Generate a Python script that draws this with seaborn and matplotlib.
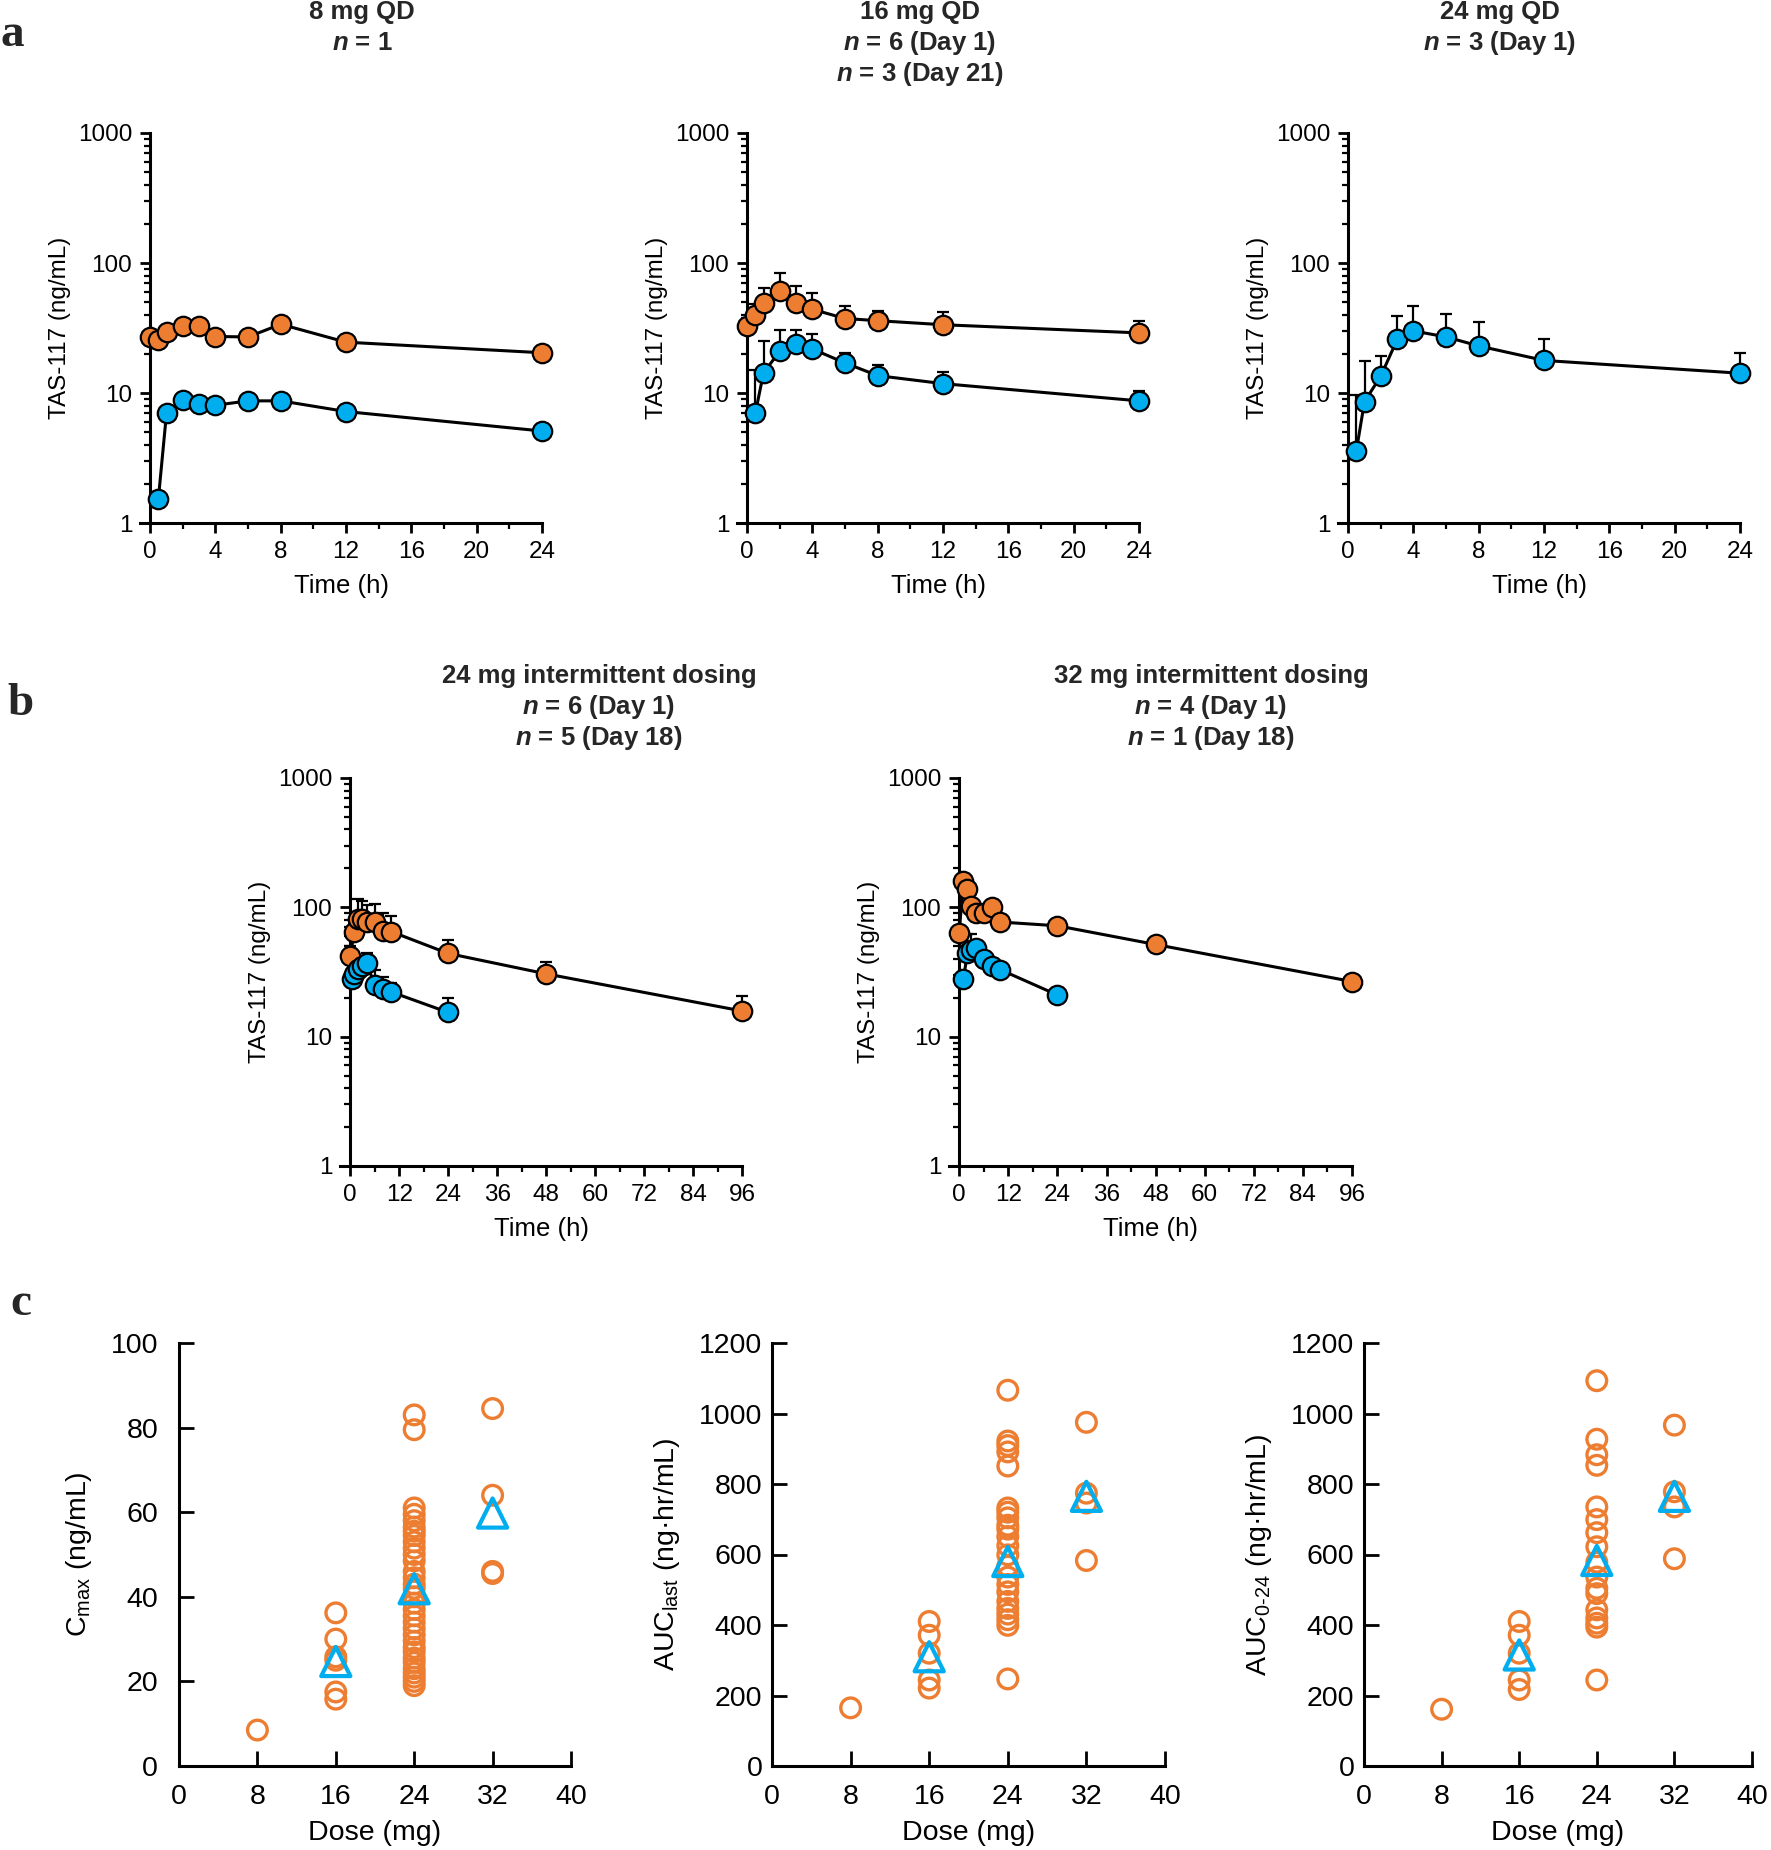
"""
TAS-117 PK figure: concentration-time profiles (a, b) and dose vs exposure (c).
"""

import numpy as np
import matplotlib

matplotlib.use("Agg")
import matplotlib.pyplot as plt
from matplotlib.ticker import LogLocator, NullFormatter
import seaborn as sns

ORANGE = "#ED7D31"
BLUE = "#00AEEF"
W, H = 1771, 1850

# ---- panel a: QD dosing (blue = Day 1, orange = Day 21) ----
qd8_t_d1 = [0.5, 1, 2, 3, 4, 6, 8, 12, 24]
qd8_c_d1 = [1.53, 7.0, 8.9, 8.2, 8.05, 8.7, 8.7, 7.2, 5.1]
qd8_t_ss = [0, 0.5, 1, 2, 3, 4, 6, 8, 12, 24]
qd8_c_ss = [27, 25.5, 29.5, 32.7, 33, 27.2, 27, 33.8, 24.6, 20.4]

qd16_t_d1 = [0.5, 1, 2, 3, 4, 6, 8, 12, 24]
qd16_c_d1 = [7.0, 14.3, 21, 24, 21.8, 17, 13.6, 11.8, 8.7]
qd16_top_d1 = [15, 25, 30.5, 30.5, 28.6, 20.4, 16.3, 14.5, 10.3]
qd16_t_ss = [0, 0.5, 1, 2, 3, 4, 6, 8, 12, 24]
qd16_c_ss = [33, 40, 49, 61, 49, 44, 37.4, 36, 33.5, 29]
qd16_top_ss = [38, 48, 64, 84, 66, 59, 47, 43, 42, 36]

qd24_t_d1 = [0.5, 1, 2, 3, 4, 6, 8, 12, 24]
qd24_c_d1 = [3.6, 8.6, 13.5, 25.8, 30, 27, 23, 17.8, 14.2]
qd24_top_d1 = [9.7, 17.5, 19.4, 39, 47, 40.7, 35, 25.8, 20.4]

# ---- panel b: intermittent dosing (blue = Day 1, orange = Day 18) ----
id24_t_d1 = [0.5, 1, 2, 3, 4, 6, 8, 10, 24]
id24_c_d1 = [28, 30.7, 33.6, 35, 37, 25.3, 23.5, 22.2, 15.4]
id24_top_d1 = [32, 35, 38, 40, 44.6, 32.6, 29, 26, 20]
id24_t_ss = [0, 1, 2, 3, 4, 6, 8, 10, 24, 48, 96]
id24_c_ss = [42, 64, 81, 81, 77, 77, 66, 65, 44, 30.6, 15.8]
id24_top_ss = [50, 75, 117, 112, 104, 106, 90, 86, 56, 38, 20.5]

id32_t_d1 = [1, 2, 3, 4, 6, 8, 10, 24]
id32_c_d1 = [27.7, 44, 46.5, 48.5, 40, 35, 33, 21]
id32_top_d1 = [np.nan, 62, 62, 55, 44, 40, 36, np.nan]
id32_t_ss = [0, 1, 2, 3, 4, 6, 8, 10, 24, 48, 96]
id32_c_ss = [63.7, 160, 138, 103, 90, 91, 100, 77, 72, 51.6, 26.7]

# ---- panel c: individual exposure by dose, triangles = means ----
cmax_8 = [8.5]
cmax_16 = [36.2, 30, 25.8, 25, 17.5, 15.8]
cmax_24 = [83, 79.5, 61, 59.5, 58, 56.5, 55.5, 54.5, 53, 51.5, 50, 48.5, 46, 44.5,
           43, 42, 40, 38.5, 37, 35.5, 34, 32.5, 31, 29.5, 28, 27, 25.5, 24.5, 23,
           22, 21, 20, 19]
cmax_32 = [84.5, 64, 46, 45.5]
cmax_mean = [24.7, 41.9, 59.8]

auclast_8 = [165]
auclast_16 = [410, 371, 320, 244, 221]
auclast_24 = [1066, 922, 909, 891, 851, 732, 720, 704, 683, 672, 651, 625, 599, 567,
              536, 515, 494, 467, 447, 431, 415, 399, 247]
auclast_32 = [975, 774, 746, 583]
auclast_mean = [310, 580, 765]

auc024_8 = [161]
auc024_16 = [410, 371, 320, 244, 217]
auc024_24 = [1093, 927, 883, 853, 735, 699, 662, 622, 578, 536, 504, 489, 443, 420,
             405, 394, 244]
auc024_32 = [967, 778, 735, 588]
auc024_mean = [315, 583, 765]

mean_doses = [16, 24, 32]

sns.set_style("ticks")
plt.rcParams.update({
    "font.family": ["Liberation Sans", "DejaVu Sans"],
    "font.size": 17.5,
    "mathtext.fontset": "custom",
    "mathtext.rm": "Liberation Sans",
    "mathtext.it": "Liberation Sans:italic:bold",
    "mathtext.bf": "Liberation Sans:bold",
    "axes.linewidth": 2.2,
    "axes.edgecolor": "black",
    "xtick.color": "black",
    "ytick.color": "black",
    "axes.labelcolor": "black",
})

fig = plt.figure(figsize=(W / 100, H / 100), dpi=100)


def add_axes(left, right, top, bottom):
    return fig.add_axes([left / W, 1 - bottom / H, (right - left) / W, (bottom - top) / H])


def pk_panel(ax, series, xmax, xmajor, xminor, xpad):
    ax.set_yscale("log")
    for t, c, top, color in series:
        if top is not None:
            upper = np.array(top, dtype=float) - np.array(c, dtype=float)
            ax.errorbar(t, c, yerr=[np.zeros(len(c)), upper], fmt="none", ecolor="black",
                        elinewidth=1.6, capsize=4, capthick=1.6, zorder=2, clip_on=False)
        sns.lineplot(x=t, y=c, color="black", linewidth=2.2, marker="o", markersize=14,
                     markerfacecolor=color, markeredgecolor="black", markeredgewidth=1.6,
                     errorbar=None, ax=ax, zorder=3, clip_on=False)
    ax.set_ylim(1, 1000)
    ax.set_xlim(-xpad, xmax)
    ax.set_yticks([1, 10, 100, 1000])
    ax.set_yticklabels(["1", "10", "100", "1000"])
    ax.yaxis.set_minor_locator(LogLocator(base=10, subs=np.arange(2, 10)))
    ax.yaxis.set_minor_formatter(NullFormatter())
    ax.set_xticks(np.arange(0, xmax + 1, xmajor))
    ax.set_xticks(np.arange(0, xmax + 1, xminor), minor=True)
    sns.despine(ax=ax)
    ax.spines["left"].set_position(("data", 0))
    ax.tick_params(which="major", direction="out", length=7, width=2, pad=6)
    ax.tick_params(which="minor", direction="out", length=4, width=1.6)
    ax.set_xlabel("Time (h)", labelpad=8, fontsize=18.5)
    ax.set_ylabel("TAS-117 (ng/mL)", labelpad=5, fontsize=17.5)


def dose_panel(ax, groups, means, ymax, ystep, ylabel, ypad):
    doses = []
    vals = []
    for d, g in zip([8, 16, 24, 32], groups):
        doses += [d] * len(g)
        vals += g
    sns.scatterplot(x=doses, y=vals, marker="o", s=200, facecolor="none",
                    edgecolor=ORANGE, linewidth=2.4, ax=ax, zorder=2)
    sns.scatterplot(x=mean_doses, y=means, marker="^", s=440, facecolor="none",
                    edgecolor=BLUE, linewidth=3, ax=ax, zorder=3)
    ax.set_xlim(0, 40)
    ax.set_ylim(0, ymax)
    ax.set_xticks(np.arange(0, 41, 8))
    ax.set_yticks(np.arange(0, ymax + 1, ystep))
    sns.despine(ax=ax)
    ax.tick_params(direction="in", length=11, width=2, labelsize=20.5)
    ax.tick_params(axis="x", pad=13)
    ax.tick_params(axis="y", pad=ypad)
    ax.set_xlabel("Dose (mg)", labelpad=7, fontsize=20.5)
    ax.set_ylabel(ylabel, labelpad=12, fontsize=20.5)


# panel a
ax = add_axes(140.4, 542, 133, 523)
pk_panel(ax, [(qd8_t_ss, qd8_c_ss, None, ORANGE), (qd8_t_d1, qd8_c_d1, None, BLUE)],
         24, 4, 2, 0.6)
ax = add_axes(737.4, 1139, 133, 523)
pk_panel(ax, [(qd16_t_ss, qd16_c_ss, qd16_top_ss, ORANGE),
              (qd16_t_d1, qd16_c_d1, qd16_top_d1, BLUE)], 24, 4, 2, 0.6)
ax = add_axes(1338.4, 1740, 133, 523)
pk_panel(ax, [(qd24_t_d1, qd24_c_d1, qd24_top_d1, BLUE)], 24, 4, 2, 0.6)

# panel b
ax = add_axes(340.4, 742, 778, 1166)
pk_panel(ax, [(id24_t_ss, id24_c_ss, id24_top_ss, ORANGE),
              (id24_t_d1, id24_c_d1, id24_top_d1, BLUE)], 96, 12, 6, 2.4)
ax = add_axes(949.4, 1352, 778, 1166)
pk_panel(ax, [(id32_t_ss, id32_c_ss, None, ORANGE),
              (id32_t_d1, id32_c_d1, id32_top_d1, BLUE)], 96, 12, 6, 2.4)

# panel c
ax = add_axes(179, 571, 1343, 1766)
dose_panel(ax, [cmax_8, cmax_16, cmax_24, cmax_32], cmax_mean, 100, 20,
           r"C$_\mathregular{max}$ (ng/mL)", 15)
ax = add_axes(772, 1165, 1343, 1766)
dose_panel(ax, [auclast_8, auclast_16, auclast_24, auclast_32], auclast_mean, 1200, 200,
           "AUC$_\\mathregular{last}$ (ng\u00b7hr/mL)", 7)
ax = add_axes(1364, 1752, 1343, 1766)
dose_panel(ax, [auc024_8, auc024_16, auc024_24, auc024_32], auc024_mean, 1200, 200,
           "AUC$_\\mathregular{0\u201024}$ (ng\u00b7hr/mL)", 7)

# titles
titles = [
    (362, 12, ["8 mg QD", "$n$ = 1"]),
    (920, 12, ["16 mg QD", "$n$ = 6 (Day 1)", "$n$ = 3 (Day 21)"]),
    (1500, 12, ["24 mg QD", "$n$ = 3 (Day 1)"]),
    (599, 676, ["24 mg intermittent dosing", "$n$ = 6 (Day 1)", "$n$ = 5 (Day 18)"]),
    (1211, 676, ["32 mg intermittent dosing", "$n$ = 4 (Day 1)", "$n$ = 1 (Day 18)"]),
]
for x, y0, lines in titles:
    for i, line in enumerate(lines):
        fig.text(x / W, 1 - (y0 + 31 * i) / H, line, ha="center", va="center",
                 fontweight="bold", fontsize=18.5)

for letter, x, y in [("a", 12, 35), ("b", 21, 704), ("c", 21, 1304)]:
    fig.text(x / W, 1 - y / H, letter, ha="center", va="center", fontsize=34,
             fontweight="bold", family=["Liberation Serif", "DejaVu Serif"])

fig.savefig("out.png", dpi=100)
plt.close()
